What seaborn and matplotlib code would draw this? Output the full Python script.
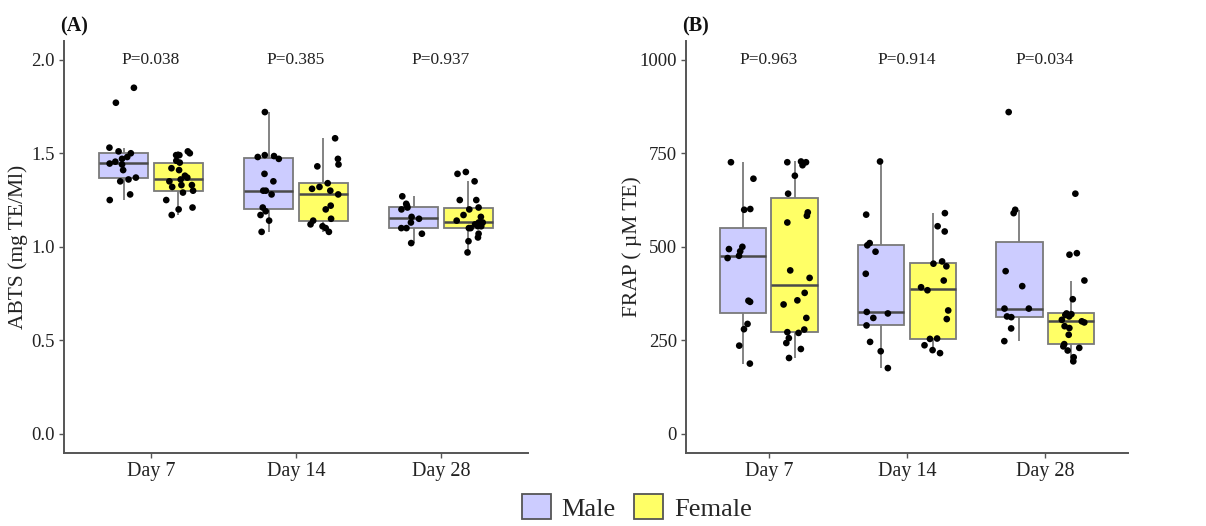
import numpy as np
import pandas as pd
import matplotlib
matplotlib.use("Agg")
import matplotlib.pyplot as plt
import seaborn as sns
from matplotlib.patches import Patch

# ---------------- data ----------------
days = ["Day 7", "Day 14", "Day 28"]
sexes = ["Male", "Female"]

abts_male_d7 = [1.25, 1.28, 1.35, 1.36, 1.37, 1.41, 1.44, 1.445, 1.455, 1.47, 1.48, 1.50, 1.51, 1.53, 1.77, 1.85]
abts_female_d7 = [1.17, 1.20, 1.21, 1.25, 1.29, 1.30, 1.32, 1.33, 1.33, 1.35, 1.36, 1.37, 1.38, 1.41, 1.42,
                  1.45, 1.46, 1.49, 1.49, 1.50, 1.51]
abts_male_d14 = [1.08, 1.14, 1.17, 1.19, 1.21, 1.28, 1.30, 1.30, 1.35, 1.39, 1.47, 1.48, 1.485, 1.49, 1.72]
abts_female_d14 = [1.08, 1.10, 1.11, 1.12, 1.14, 1.15, 1.20, 1.22, 1.28, 1.30, 1.31, 1.32, 1.34, 1.43, 1.44,
                   1.47, 1.58]
abts_male_d28 = [1.02, 1.07, 1.10, 1.10, 1.13, 1.15, 1.16, 1.20, 1.21, 1.22, 1.23, 1.27]
abts_female_d28 = [0.97, 1.03, 1.05, 1.07, 1.10, 1.10, 1.11, 1.11, 1.12, 1.13, 1.13, 1.14, 1.16, 1.17, 1.20,
                   1.21, 1.25, 1.25, 1.35, 1.39, 1.40]

frap_male_d7 = [188, 236, 280, 294, 353, 356, 470, 476, 488, 494, 500, 599, 601, 682, 726]
frap_female_d7 = [203, 227, 243, 256, 270, 272, 279, 310, 346, 357, 377, 417, 437, 565, 583, 592, 642, 690,
                  718, 726, 726, 728]
frap_male_d14 = [176, 221, 246, 290, 310, 322, 326, 428, 487, 504, 510, 586, 728]
frap_female_d14 = [216, 224, 237, 254, 255, 307, 330, 384, 392, 410, 448, 455, 461, 541, 555, 590]
frap_male_d28 = [248, 282, 312, 314, 335, 335, 395, 435, 590, 599, 860]
frap_female_d28 = [194, 205, 223, 230, 234, 240, 265, 283, 288, 298, 301, 305, 314, 318, 320, 322, 360, 410,
                   479, 483, 642]

p_abts = ["P=0.038", "P=0.385", "P=0.937"]
p_frap = ["P=0.963", "P=0.914", "P=0.034"]

abts_ticks = [0.0, 0.5, 1.0, 1.5, 2.0]
abts_ticklabels = ["0.0", "0.5", "1.0", "1.5", "2.0"]
frap_ticks = [0, 250, 500, 750, 1000]
frap_ticklabels = ["0", "250", "500", "750", "1000"]

colors = {"Male": "#CCCCFF", "Female": "#FFFF66"}


def long_frame(groups):
    rows = []
    for (day, sex), vals in groups.items():
        for v in vals:
            rows.append({"day": day, "sex": sex, "value": v})
    return pd.DataFrame(rows)


abts_df = long_frame({
    ("Day 7", "Male"): abts_male_d7, ("Day 7", "Female"): abts_female_d7,
    ("Day 14", "Male"): abts_male_d14, ("Day 14", "Female"): abts_female_d14,
    ("Day 28", "Male"): abts_male_d28, ("Day 28", "Female"): abts_female_d28,
})
frap_df = long_frame({
    ("Day 7", "Male"): frap_male_d7, ("Day 7", "Female"): frap_female_d7,
    ("Day 14", "Male"): frap_male_d14, ("Day 14", "Female"): frap_female_d14,
    ("Day 28", "Male"): frap_male_d28, ("Day 28", "Female"): frap_female_d28,
})

# ---------------- style ----------------
sns.set_style("white")
plt.rcParams["font.family"] = ["Liberation Serif", "DejaVu Serif"]
np.random.seed(7)

fig = plt.figure(figsize=(12.06, 5.26), dpi=100)
axA = fig.add_axes([0.0531, 0.1394, 0.3847, 0.7827])
axB = fig.add_axes([0.5688, 0.1394, 0.3665, 0.7827])


def draw(ax, df, ylim, ticks, ticklabels, ylabel, pvals, py, labx):
    sns.boxplot(data=df, x="day", y="value", hue="sex", order=days, hue_order=sexes,
                palette=colors, saturation=1, width=0.75, gap=0.1, showfliers=False,
                showcaps=False, linecolor="#7a7a7a", linewidth=1.3,
                medianprops=dict(color="#4a4a4a", linewidth=1.8),
                legend=False, ax=ax)
    sns.stripplot(data=df, x="day", y="value", hue="sex", order=days, hue_order=sexes,
                  palette={"Male": "black", "Female": "black"}, dodge=True, jitter=0.2,
                  size=4.8, linewidth=0, legend=False, ax=ax, zorder=3)
    ax.set_xlim(-0.6, 2.6)
    ax.set_ylim(*ylim)
    ax.set_yticks(ticks)
    ax.set_yticklabels(ticklabels)
    ax.set_xlabel("")
    ax.set_ylabel(ylabel, fontsize=15.5, color="#222222")
    ax.yaxis.set_label_coords(labx, 0.5)
    ax.yaxis.label.set_verticalalignment("center")
    for i, p in enumerate(pvals):
        ax.text(i, py, p, ha="center", va="center", fontsize=12.5, color="#222222")
    for s in ["top", "right"]:
        ax.spines[s].set_visible(False)
    for s in ["left", "bottom"]:
        ax.spines[s].set_color("#555555")
        ax.spines[s].set_linewidth(1.4)
    ax.tick_params(axis="both", which="major", bottom=True, left=True, direction="out",
                   length=3.5, width=1.0, color="#555555", labelcolor="#222222", pad=3)
    ax.tick_params(axis="x", labelsize=14.5)
    ax.tick_params(axis="y", labelsize=13.5)
    ax.grid(False)


draw(axA, abts_df, (-0.1, 2.1), abts_ticks, abts_ticklabels, "ABTS (mg TE/Ml)", p_abts, 2.0, -0.1)
draw(axB, frap_df, (-50, 1050), frap_ticks, frap_ticklabels, "FRAP ( \u00b5M TE)", p_frap, 1000, -0.122)

fig.text(60 / 1206, 1 - 26 / 526, "(A)", fontsize=14.5, fontweight="bold", va="center", ha="left",
         color="#111111")
fig.text(682 / 1206, 1 - 26 / 526, "(B)", fontsize=14.5, fontweight="bold", va="center", ha="left",
         color="#111111")

handles = [Patch(facecolor=colors[s], edgecolor="#555555", linewidth=1.3, label=s) for s in sexes]
fig.legend(handles=handles, loc="lower center", bbox_to_anchor=(0.528, -0.035), ncol=2, frameon=False,
           fontsize=19, handlelength=1.1, handleheight=1.1, handletextpad=0.4, columnspacing=0.7)

fig.savefig("out.png", dpi=100)
